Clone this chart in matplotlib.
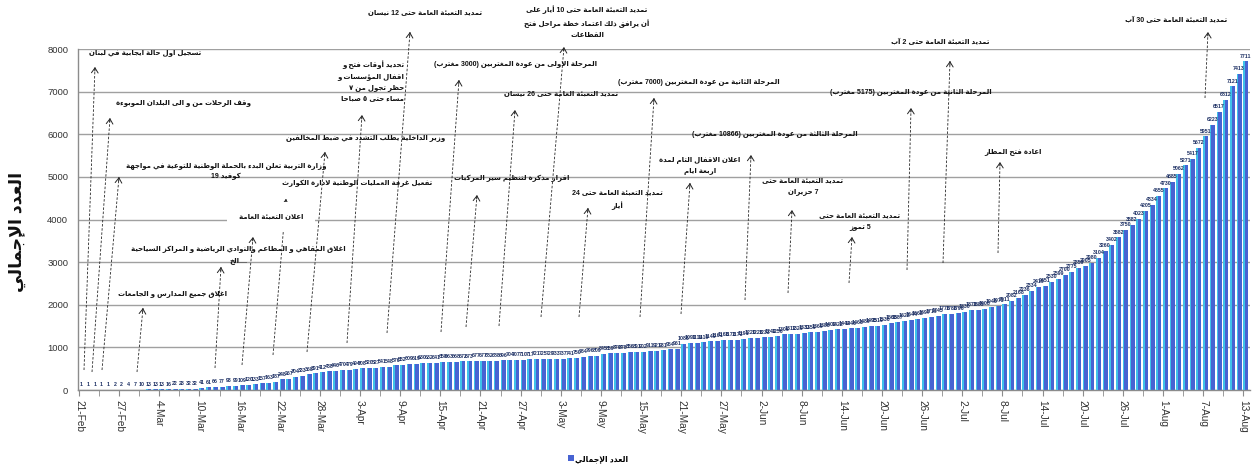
import re
import numpy as np
import pandas as pd
import matplotlib
matplotlib.use("Agg")
import matplotlib.pyplot as plt
from matplotlib.lines import Line2D
from matplotlib.patches import Patch, FancyArrowPatch

plt.rcParams['font.family'] = ['Liberation Sans', 'DejaVu Sans']

# cumulative confirmed cases, one value per day from 21 Feb to 13 Aug 2020
feb = [1, 1, 1, 1, 1, 2, 2, 4, 7]
mar = [10, 13, 13, 13, 16, 22, 28, 32, 32, 41, 61, 66, 77, 93, 99, 109, 120, 133,
       157, 163, 187, 248, 267, 304, 333, 368, 391, 412, 438, 446, 470]
apr = [479, 494, 508, 520, 527, 541, 548, 576, 582, 609, 619, 630, 632, 641, 658,
       663, 668, 672, 673, 677, 677, 682, 688, 696, 704, 707, 710, 717, 721, 725]
may = [729, 733, 737, 741, 750, 784, 796, 809, 845, 859, 870, 878, 886, 891, 902,
       911, 921, 931, 954, 961, 1086, 1097, 1114, 1119, 1140, 1161, 1168, 1172,
       1173, 1191, 1220]
jun = [1228, 1233, 1242, 1256, 1306, 1312, 1320, 1331, 1350, 1369, 1388, 1402,
       1422, 1442, 1446, 1463, 1489, 1495, 1510, 1536, 1568, 1587, 1622, 1644,
       1662, 1697, 1719, 1745, 1778, 1788]
jul = [1796, 1830, 1873, 1885, 1908, 1946, 1973, 2011, 2082, 2168, 2236, 2334,
       2419, 2451, 2530, 2599, 2700, 2775, 2859, 2905, 2980, 3104, 3260, 3402,
       3582, 3750, 3882, 4023, 4205, 4334, 4555]
aug = [4730, 4885, 5062, 5271, 5417, 5672, 5951, 6223, 6517, 6812, 7121, 7413, 7711]

totals = feb + mar + apr + may + jun + jul + aug
days = pd.date_range('2020-02-21', periods=len(totals), freq='D')

series_name = 'العدد الإجمالي'

event_texts = [
    'تسجيل اول حالة ايجابية في لبنان',
    'وقف الرحلات من و الى البلدان الموبوءة',
    'وزارة التربية تعلن البدء بالحملة الوطنية للتوعية في مواجهة\nكوفيد 19',
    'اغلاق جميع المدارس و الجامعات',
    'اعلان التعبئة العامة',
    'اغلاق المقاهي و المطاعم والنوادي الرياضية و المراكز السياحية\n....الخ',
    'تفعيل غرفة العمليات الوطنية لادارة الكوارث',
    'وزير الداخلية يطلب التشدد في ضبط المخالفين',
    'تحديد أوقات فتح و\nاقفال المؤسسات و\nحظر تجول من ٧\nمساء حتى ٥ صباحا',
    'تمديد التعبئة العامة حتى 12 نيسان',
    'المرحلة الاولى من عودة المغتربين (3000 مغترب)',
    'تمديد التعبئة العامة حتى 10 أيار على\nأن يرافق ذلك اعتماد خطة مراحل فتح\nالقطاعات',
    'اقرار مذكرة لتنظيم سير المركبات',
    'تمديد التعبئة العامة حتى 26 نيسان',
    'تمديد التعبئة العامة حتى 24\nأيار',
    'المرحلة الثانية من عودة المغتربين (7000 مغترب)',
    'اعلان الاقفال التام لمدة\nاربعة ايام',
    'المرحلة الثالثة من عودة المغتربين (10866 مغترب)',
    'تمديد التعبئة العامة حتى\n7 حزيران',
    'تمديد التعبئة العامة حتى\n5 تموز',
    'المرحلة الثانية من عودة المغتربين (5175 مغترب)',
    'تمديد التعبئة العامة حتى 2 آب',
    'اعادة فتح المطار',
    'تمديد التعبئة العامة حتى 30 آب',
]

# layout of the notes in image pixels (from top-left): text anchor, arrow tip, arrow tail
event_layout = [
    ((145, 53), (95, 67), (84, 370)),
    ((183, 103), (110, 118), (92, 372)),
    ((226, 171), (119, 177), (102, 370)),
    ((173, 294), (143, 308), (137, 372)),
    ((271, 217), (253, 237), (242, 365)),
    ((238, 255), (221, 267), (215, 368)),
    ((357, 183), (286, 199), (273, 355)),
    ((366, 138), (325, 152), (307, 352)),
    ((404, 81), (362, 115), (347, 343)),
    ((425, 13), (410, 32), (387, 333)),
    ((515, 65), (459, 80), (441, 332)),
    ((587, 22), (564, 47), (541, 317)),
    ((512, 178), (477, 195), (466, 327)),
    ((561, 94), (515, 110), (499, 326)),
    ((617, 200), (588, 208), (579, 317)),
    ((699, 82), (654, 98), (640, 317)),
    ((700, 165), (690, 183), (681, 314)),
    ((775, 135), (751, 155), (745, 300)),
    ((803, 186), (792, 210), (788, 293)),
    ((860, 221), (852, 237), (849, 283)),
    ((911, 93), (911, 108), (907, 270)),
    ((940, 43), (950, 61), (943, 263)),
    ((1013, 152), (1000, 162), (998, 253)),
    ((1176, 21), (1208, 32), (1205, 98)),
]

# --- minimal Arabic shaping + right-to-left ordering (matplotlib does neither) ---
_order = [('ء', 1), ('آ', 2), ('أ', 2), ('ؤ', 2), ('إ', 2), ('ئ', 4), ('ا', 2), ('ب', 4),
          ('ة', 2), ('ت', 4), ('ث', 4), ('ج', 4), ('ح', 4), ('خ', 4), ('د', 2), ('ذ', 2),
          ('ر', 2), ('ز', 2), ('س', 4), ('ش', 4), ('ص', 4), ('ض', 4), ('ط', 4), ('ظ', 4),
          ('ع', 4), ('غ', 4), ('ف', 4), ('ق', 4), ('ك', 4), ('ل', 4), ('م', 4), ('ن', 4),
          ('ه', 4), ('و', 2), ('ى', 2), ('ي', 4)]
FORMS = {}
_code = 0xFE80
for _ch, _n in _order:
    FORMS[_ch] = (_code, _n)
    _code += _n
LAM_ALEF = {'آ': 0xFEF5, 'أ': 0xFEF7, 'إ': 0xFEF9, 'ا': 0xFEFB}


def shape_line(s):
    out = []
    i = 0
    while i < len(s):
        c = s[i]
        if c not in FORMS:
            out.append(c)
            i += 1
            continue
        prev = s[i - 1] if i > 0 else ''
        joins_prev = prev in FORMS and FORMS[prev][1] == 4 and FORMS[c][1] > 1
        if c == 'ل' and i + 1 < len(s) and s[i + 1] in LAM_ALEF:
            out.append(chr(LAM_ALEF[s[i + 1]] + (1 if joins_prev else 0)))
            i += 2
            continue
        nxt = s[i + 1] if i + 1 < len(s) else ''
        base, n = FORMS[c]
        joins_next = n == 4 and nxt in FORMS and FORMS[nxt][1] > 1
        if n == 1:
            form = 0
        elif joins_prev and joins_next:
            form = 3
        elif joins_prev:
            form = 1
        elif joins_next:
            form = 2
        else:
            form = 0
        out.append(chr(base + form))
        i += 1
    runs = re.findall(r'[0-9A-Za-z]+|[^0-9A-Za-z]', ''.join(out))
    mirror = {'(': ')', ')': '('}
    return ''.join(mirror.get(r, r) for r in runs[::-1])


def ar(s):
    return '\n'.join(shape_line(line) for line in s.split('\n'))


W, H = 1255, 468


def fig_xy(px, py):
    return (px / W, 1 - py / H)


fig = plt.figure(figsize=(W / 100, H / 100), dpi=100)
ax = fig.add_axes([78 / W, 1 - 390 / H, 1172 / W, 341 / H])

x = np.arange(len(totals))
ax.bar(x, totals, width=0.75, align='edge', color='#4763d2', zorder=2)
ax.bar(x, totals, width=0.24, align='edge', color='#3fc2ea', zorder=3)
for xi, v in zip(x, totals):
    ax.annotate(str(v), (xi + 0.37, v), xytext=(0, 2), textcoords='offset points',
                ha='center', va='bottom', fontsize=3.8, fontweight='bold',
                color='#1c2f63', zorder=4)

ax.set_xlim(-0.15, 175.0)
ax.set_ylim(0, 8000)
ax.set_yticks(range(0, 8001, 1000))
ax.tick_params(axis='y', length=0, pad=7, labelsize=6.8, labelcolor='#333333')
ax.yaxis.grid(True, color='#a0a0a0', lw=1.0)
ax.set_axisbelow(True)

major = x[::6]
ax.set_xticks(major)
ax.set_xticklabels([f'{d.day}-{d:%b}' for d in days[::6]], rotation=-90,
                   ha='center', va='top')
ax.set_xticks(x[3::6], minor=True)
ax.tick_params(axis='x', which='both', length=4, color='#8c8c8c', labelsize=7.3,
               labelcolor='#333333', pad=3)

for side in ('top', 'right'):
    ax.spines[side].set_visible(False)
for side in ('left', 'bottom'):
    ax.spines[side].set_color('#8c8c8c')
    ax.spines[side].set_linewidth(1.0)

# notes with dashed arrows
for txt, (anchor, tip, tail) in zip(event_texts, event_layout):
    fig.add_artist(Line2D([tail[0] / W, tip[0] / W], [1 - tail[1] / H, 1 - tip[1] / H],
                          transform=fig.transFigure, lw=0.6, ls=(0, (3, 2)),
                          color='#262626', zorder=2))
    d = np.array(tip, float) - np.array(tail, float)
    d /= np.hypot(*d)
    start = np.array(tip, float) - 4 * d
    fig.add_artist(FancyArrowPatch(fig_xy(*start), fig_xy(*tip),
                                   transform=fig.transFigure,
                                   arrowstyle='->,head_length=0.45,head_width=0.3',
                                   mutation_scale=8, lw=0.7, color='#262626',
                                   shrinkA=0, shrinkB=0, zorder=2))
    ha = 'right' if txt.startswith('تحديد') else 'center'
    bbox = None
    if txt == 'اعلان التعبئة العامة':
        bbox = dict(boxstyle='square,pad=1.7', fc='white', ec='none')
    fig.text(*fig_xy(*anchor), ar(txt), ha=ha, va='center', multialignment=ha,
             fontsize=5.0, fontweight='bold', color='#111111', linespacing=1.8,
             bbox=bbox, zorder=3)

fig.text(17 / W, 1 - 232 / H, ar(series_name), rotation=90, ha='center', va='center',
         fontsize=12.5, fontweight='bold', color='#111111')

fig.legend(handles=[Patch(facecolor='#4763d2')], labels=[ar(series_name)],
           loc='center', bbox_to_anchor=fig_xy(598, 459), frameon=False,
           handlelength=0.8, handleheight=0.8, handletextpad=0.2,
           prop=dict(size=5.5, weight='bold'))

fig.savefig('out.png', dpi=100)
